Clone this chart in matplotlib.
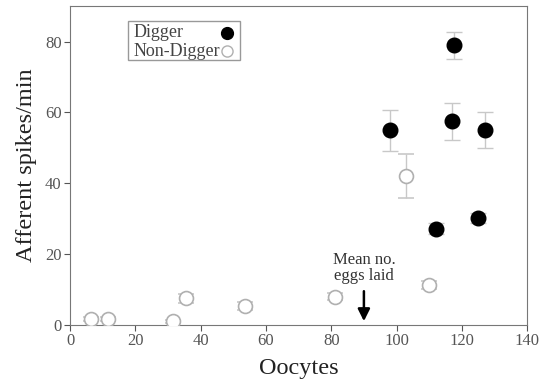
import matplotlib
matplotlib.use("Agg")
import matplotlib.pyplot as plt
from matplotlib.patches import Rectangle

# ---- data ----
dig_x   = [98, 117.5, 117, 127, 112, 125]
dig_y   = [55, 79, 57.5, 55, 27.2, 30.2]
dig_err = [5.8, 3.8, 5.2, 5.0, 1.5, 1.5]

non_x   = [6.5, 11.5, 31.5, 35.5, 53.5, 81, 103, 110]
non_y   = [1.8, 1.6, 1.0, 7.5, 5.3, 8.0, 42, 11.3]
non_err = [0.6, 0.6, 0.5, 1.2, 1.2, 1.0, 6.2, 1.0]

eggs_mean = 90

plt.rcParams['font.family'] = ['Liberation Serif', 'DejaVu Serif']

fig = plt.figure(figsize=(5.39, 3.86), dpi=100)
ax = fig.add_axes([0.130, 0.158, 0.848, 0.826])

ax.errorbar(non_x, non_y, yerr=non_err, fmt='o', ms=10, mfc='white', mec='#b0b0b0',
            mew=1.2, ecolor='#c8c8c8', elinewidth=1.0, capsize=6, capthick=1.0,
            zorder=3)
ax.errorbar(dig_x, dig_y, yerr=dig_err, fmt='o', ms=10.5, mfc='black', mec='black',
            ecolor='#c8c8c8', elinewidth=1.0, capsize=6, capthick=1.0,
            zorder=4)

ax.annotate('Mean no.\neggs laid', xy=(eggs_mean, 0.3), xytext=(eggs_mean, 11.5),
            ha='center', va='bottom', fontsize=12, color='#333333',
            linespacing=1.05,
            arrowprops=dict(arrowstyle='-|>,head_length=0.6,head_width=0.3',
                            color='black', lw=1.8, shrinkA=3))

ax.set_xlim(0, 140)
ax.set_ylim(0, 90)
ax.set_xticks(range(0, 141, 20))
ax.set_yticks(range(0, 81, 20))
ax.set_xlabel('Oocytes', fontsize=17.5, color='#222222', labelpad=6)
ax.set_ylabel('Afferent spikes/min', fontsize=17.5, color='#222222', labelpad=6)
ax.tick_params(labelsize=12, colors='#555555', direction='out', length=4, pad=2)
for s in ax.spines.values():
    s.set_color('#777777')

# legend box drawn by hand: text left, marker right
ax.add_patch(Rectangle((0.127, 0.830), 0.245, 0.125, transform=ax.transAxes,
                       fill=False, ec='#999999', lw=1.0, zorder=5))
ax.text(0.138, 0.917, 'Digger', transform=ax.transAxes, fontsize=13,
        color='#444444', va='center', ha='left')
ax.text(0.138, 0.859, 'Non-Digger', transform=ax.transAxes, fontsize=13,
        color='#444444', va='center', ha='left')
ax.plot([0.344], [0.917], 'o', ms=8.5, mfc='black', mec='black',
        transform=ax.transAxes, clip_on=False)
ax.plot([0.344], [0.859], 'o', ms=8, mfc='white', mec='#b0b0b0', mew=1.0,
        transform=ax.transAxes, clip_on=False)

fig.savefig('out.png', dpi=100)
